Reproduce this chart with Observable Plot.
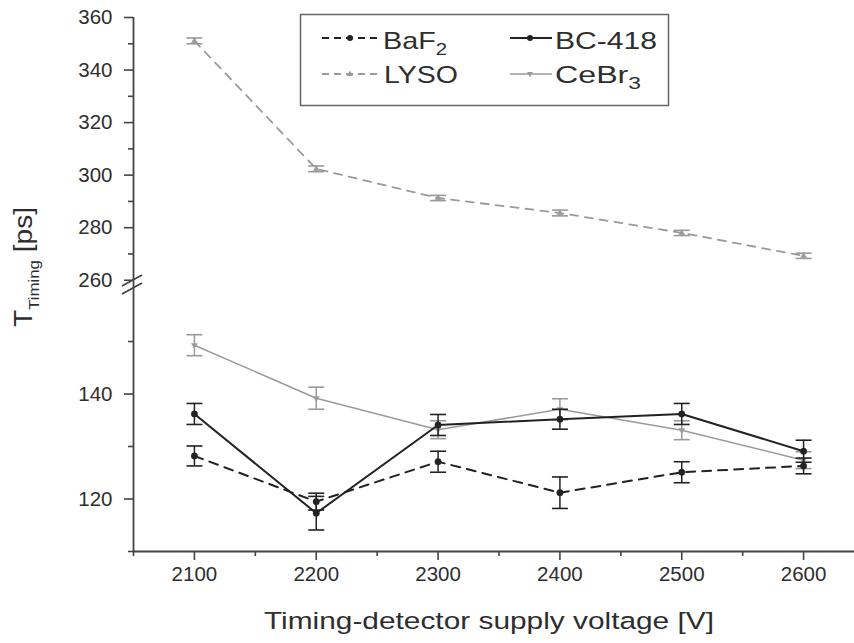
<!DOCTYPE html>
<html><head><meta charset="utf-8">
<script src="https://cdn.jsdelivr.net/npm/d3@7"></script>
<script src="https://cdn.jsdelivr.net/npm/@observablehq/plot@0.6"></script>
<style>
body{margin:0;background:#fff;}
#wrap{position:relative;width:854px;height:643px;overflow:hidden;background:#fff;font-family:"Liberation Sans",Arial,sans-serif;}
#wrap > svg{position:absolute;left:0;}
</style></head><body><div id="wrap"></div>
<script>
// ---- data ----
const voltages = [2100, 2200, 2300, 2400, 2500, 2600];
const baf2     = [128.2, 119.5, 127.1, 121.2, 125.1, 126.3];
const baf2Err  = [1.9, 1.6, 2.0, 3.0, 2.0, 1.5];
const bc418    = [136.2, 117.3, 134.1, 135.2, 136.2, 129.1];
const bc418Err = [2.0, 3.2, 2.0, 1.9, 2.0, 2.1];
const lyso     = [351.1, 302.4, 291.3, 285.6, 278.0, 269.3];
const lysoErr  = [1.1, 1.1, 1.0, 1.1, 1.0, 1.0];
const cebr3    = [149.3, 139.2, 133.2, 137.1, 133.1, 127.4];
const cebr3Err = [2.0, 2.1, 1.7, 2.0, 1.8, 1.6];

const xTicks = [2100, 2200, 2300, 2400, 2500, 2600];
const xMinor = [2050, 2150, 2250, 2350, 2450, 2550, 2650];
const yUpperTicks = [260, 280, 300, 320, 340, 360];
const yUpperMinor = [270, 290, 310, 330, 350];
const yLowerTicks = [120, 140];
const yLowerMinor = [110, 130, 150];
const xLabel = "Timing-detector supply voltage [V]";

const dark = "#222";
const light = "#9a9a9a";
const axisColor = "#444";
const textColor = "#2e2e2e";

function rows(vals, errs) {
  return voltages.map((v, i) => ({x: v, y: vals[i], lo: vals[i] - errs[i], hi: vals[i] + errs[i]}));
}
const capSym = {draw(ctx) { ctx.moveTo(-8, 0); ctx.lineTo(8, 0); }};
const triDown = {draw(ctx) { ctx.moveTo(-3, -1.8); ctx.lineTo(3, -1.8); ctx.lineTo(0, 3.2); ctx.closePath(); }};
const triUp = {draw(ctx) { ctx.moveTo(-3, 1.8); ctx.lineTo(3, 1.8); ctx.lineTo(0, -3.2); ctx.closePath(); }};

function seriesMarks(data, color, width, dash, symbol, r) {
  return [
    Plot.line(data, {x: "x", y: "y", stroke: color, strokeWidth: width, strokeDasharray: dash}),
    Plot.ruleX(data, {x: "x", y1: "lo", y2: "hi", stroke: color, strokeWidth: 1.5}),
    Plot.dot(data, {x: "x", y: "lo", symbol: capSym, stroke: color, strokeWidth: 1.6, fill: "none"}),
    Plot.dot(data, {x: "x", y: "hi", symbol: capSym, stroke: color, strokeWidth: 1.6, fill: "none"}),
    Plot.dot(data, {x: "x", y: "y", symbol, r, fill: color, stroke: color, strokeWidth: 0.5})
  ];
}

const fmt = d => String(d);
const style = {background: "transparent", fontFamily: "'Liberation Sans', Arial, sans-serif", color: textColor, overflow: "visible"};

const upper = Plot.plot({
  width: 854, height: 285, style,
  marginLeft: 133, marginRight: -10, marginTop: 17, marginBottom: 0,
  x: {domain: [2050, 2650], axis: null},
  y: {domain: [258, 360], axis: null},
  marks: [
    Plot.ruleX([2050], {y1: 258, y2: 360, stroke: axisColor, strokeWidth: 1.8}),
    Plot.axisY(yUpperTicks, {anchor: "left", tickSize: 9, tickPadding: 12, fontSize: 20.5, tickFormat: fmt, stroke: axisColor, strokeWidth: 1.6, fill: textColor, label: null}),
    Plot.axisY(yUpperMinor, {anchor: "left", tickSize: 5, tickFormat: () => "", stroke: axisColor, strokeWidth: 1.6, label: null}),
    ...seriesMarks(rows(lyso, lysoErr), light, 1.8, "8,7", triUp, 3)
  ]
});
upper.style.top = "0px";

const lower = Plot.plot({
  width: 854, height: 358, style,
  marginLeft: 133, marginRight: -10, marginTop: 0, marginBottom: 92,
  x: {domain: [2050, 2650]},
  y: {domain: [110, 160.67]},
  marks: [
    Plot.ruleX([2050], {y1: 110, y2: 160.67, stroke: axisColor, strokeWidth: 1.8}),
    Plot.ruleY([110], {x1: 2050, x2: 2650, stroke: axisColor, strokeWidth: 1.8}),
    Plot.axisY(yLowerTicks, {anchor: "left", tickSize: 9, tickPadding: 12, fontSize: 20.5, tickFormat: fmt, stroke: axisColor, strokeWidth: 1.6, fill: textColor, label: null}),
    Plot.axisY(yLowerMinor, {anchor: "left", tickSize: 5, tickFormat: () => "", stroke: axisColor, strokeWidth: 1.6, label: null}),
    Plot.axisX(xTicks, {anchor: "bottom", tickSize: 9, tickPadding: 6, fontSize: 20.5, tickFormat: fmt, stroke: axisColor, strokeWidth: 1.6, fill: textColor, label: null}),
    Plot.axisX(xMinor, {anchor: "bottom", tickSize: 5, tickFormat: () => "", stroke: axisColor, strokeWidth: 1.6, label: null}),
    ...seriesMarks(rows(cebr3, cebr3Err), light, 1.5, null, triDown, 3),
    ...seriesMarks(rows(bc418, bc418Err), dark, 2, null, "circle", 3.2),
    ...seriesMarks(rows(baf2, baf2Err), dark, 2, "9,7", "circle", 3.2)
  ]
});
lower.style.top = "285px";

const wrap = document.getElementById("wrap");
wrap.appendChild(upper);
wrap.appendChild(lower);

// ---- overlay: axis label, y label, break marks, legend ----
const NS = "http://www.w3.org/2000/svg";
const ov = document.createElementNS(NS, "svg");
ov.setAttribute("width", 854); ov.setAttribute("height", 643);
ov.style.top = "0px";
ov.style.fontFamily = "'Liberation Sans', Arial, sans-serif";
ov.innerHTML = `
  <g stroke="${axisColor}" stroke-width="1.8">
    <line x1="122" y1="286" x2="142" y2="275"/>
    <line x1="122" y1="294" x2="142" y2="283"/>
  </g>
  <text x="489" y="629" text-anchor="middle" font-size="24.5" fill="${textColor}" textLength="450" lengthAdjust="spacingAndGlyphs">${xLabel}</text>
  <text transform="translate(32,327) rotate(-90)" font-size="25" fill="${textColor}" textLength="120" lengthAdjust="spacingAndGlyphs">T<tspan font-size="15" dy="7">Timing</tspan><tspan dy="-7"> [ps]</tspan></text>
  <rect x="300.5" y="14.5" width="368" height="91" fill="#fff" stroke="#666" stroke-width="1.5"/>
  <g font-size="24" fill="${textColor}">
    <line x1="322" y1="38" x2="380" y2="38" stroke="${dark}" stroke-width="2" stroke-dasharray="7,5"/>
    <circle cx="350" cy="38" r="3" fill="${dark}"/>
    <text x="383" y="49" textLength="64" lengthAdjust="spacingAndGlyphs">BaF<tspan font-size="17" dy="6">2</tspan></text>
    <line x1="510" y1="38" x2="552" y2="38" stroke="${dark}" stroke-width="2"/>
    <circle cx="530" cy="38" r="3" fill="${dark}"/>
    <text x="555" y="49" textLength="102" lengthAdjust="spacingAndGlyphs">BC-418</text>
    <line x1="322" y1="74" x2="380" y2="74" stroke="${light}" stroke-width="2" stroke-dasharray="7,5"/>
    <path d="M347,76 L353,76 L350,70.5 Z" fill="${light}"/>
    <text x="384" y="83" textLength="74" lengthAdjust="spacingAndGlyphs">LYSO</text>
    <line x1="510" y1="74" x2="552" y2="74" stroke="${light}" stroke-width="1.6"/>
    <path d="M527,72 L533,72 L530,77.5 Z" fill="${light}"/>
    <text x="555" y="83" textLength="86" lengthAdjust="spacingAndGlyphs">CeBr<tspan font-size="17" dy="6">3</tspan></text>
  </g>`;
wrap.appendChild(ov);
</script></body></html>
